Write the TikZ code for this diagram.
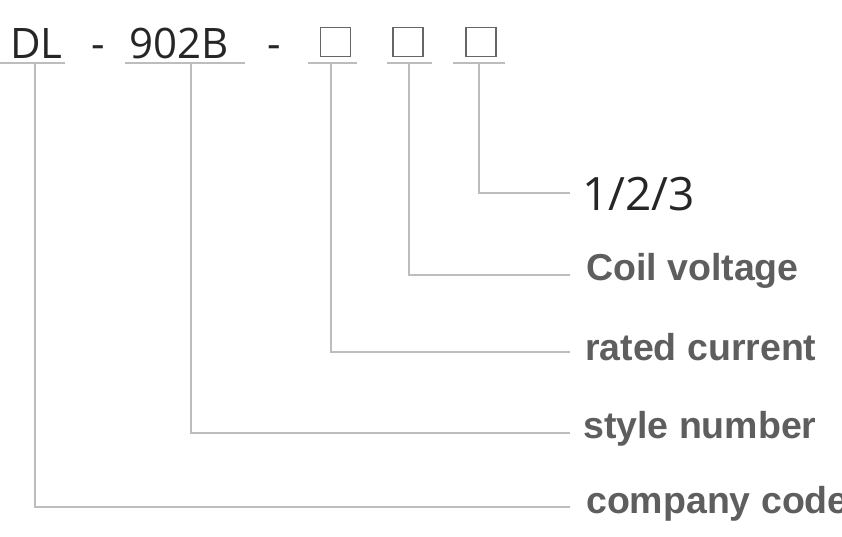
\documentclass[tikz,border=0pt]{standalone}
\usepackage{fontspec}
\setmainfont{Open Sans}
\newfontfamily\labfont{Liberation Sans}
\usetikzlibrary{positioning,calc}
\definecolor{leadgray}{HTML}{BDBDBD}
\definecolor{labgray}{HTML}{5E5E5E}

\begin{document}
\begin{tikzpicture}[x=1pt, y=-1pt,
    code/.style={inner sep=0, text=black!85, font=\fontsize{42}{42}\selectfont},
    slot/.style={draw=black!60, line width=1.5pt, minimum width=30pt, minimum height=29pt, inner sep=0},
    lead/.style={draw=leadgray, line width=1.6pt},
    lab/.style={inner sep=0, anchor=base west, text=labgray, font=\labfont\bfseries\fontsize{37.5}{37.5}\selectfont}]
    \useasboundingbox (0,0) rectangle (842,536);
    % the type code
    \node[code, anchor=base west] (dl) at (10,58) {DL};
    \node[code, anchor=base] (dash1) at (98,58) {-};
    \node[code, anchor=base west] (sn) at (129,58) {902B};
    \node[code, anchor=base] (dash2) at (274,58) {-};
    \node[slot] (b1) at (335.5,42) {};
    \node[slot] (b2) at (408,42) {};
    \node[slot] (b3) at (481,42) {};
    % underlines and leads
    \foreach \n/\ua/\ub/\xv/\yl in {dl/0/65/35/507, sn/125/245/191/433, b1/308/357/331/352, b2/387/432/409/275, b3/453/505/479/193} {
        \draw[lead] (\ua,63) -- (\ub,63);
        \coordinate (\n-top) at (\xv,63);
        \coordinate (\n-end) at (570,\yl);
        \draw[lead] (\n-top) |- (\n-end);
    }
    % meanings
    \node[inner sep=0, anchor=base west, text=black!85, font=\fontsize{46}{46}\selectfont] (l3) at ([xshift=12pt, yshift=-17pt]b3-end) {1/2/3};
    \node[lab] (l2) at ([xshift=16pt, yshift=-5pt]b2-end) {Coil voltage};
    \node[lab] (l1) at ([xshift=15pt, yshift=-8pt]b1-end) {rated current};
    \node[lab] (lsn) at ([xshift=13pt, yshift=-5pt]sn-end) {style number};
    \node[lab] (ldl) at ([xshift=16pt, yshift=-6pt]dl-end) {company code};
\end{tikzpicture}
\end{document}
